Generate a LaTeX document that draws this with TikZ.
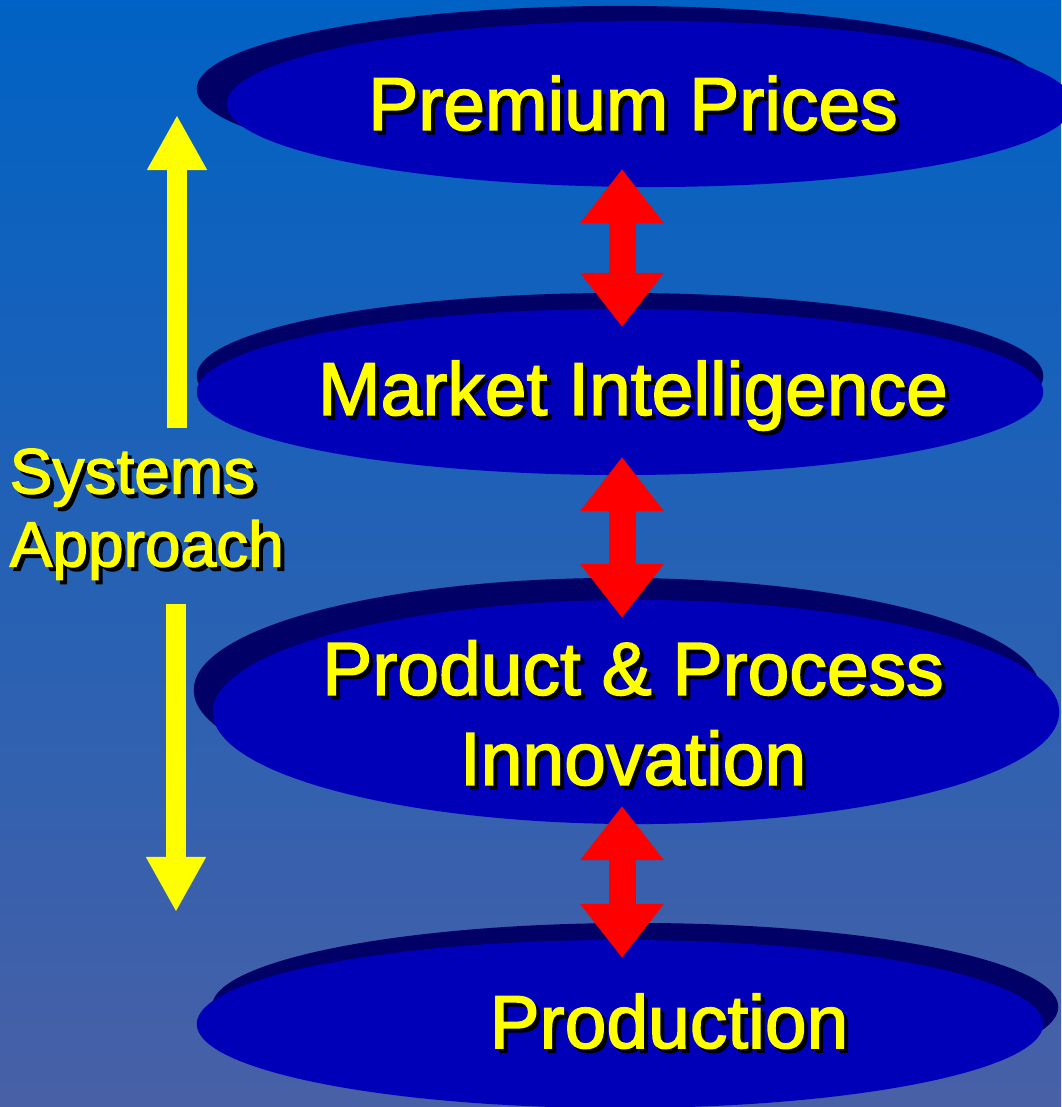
\documentclass[tikz,border=0pt]{standalone}
\usepackage{fontspec}
\setmainfont{Liberation Sans}
\newfontfamily\capfont{Liberation Sans}[FakeBold=2]
\usetikzlibrary{shapes.geometric,arrows.meta,shadows}

\definecolor{bgtop}{RGB}{0,98,196}
\definecolor{bgmid}{RGB}{30,96,186}
\definecolor{bgbottom}{RGB}{72,96,166}
\definecolor{discblue}{RGB}{0,0,184}
\definecolor{discshadow}{RGB}{0,0,102}
\definecolor{capyellow}{RGB}{255,255,0}
\definecolor{linkred}{RGB}{255,0,0}

% yellow text with a black drop copy behind it
\newcommand{\dropped}[1]{\makebox[0pt][l]{\raisebox{-0.04cm}{\hspace{0.04cm}\textcolor{black}{#1}}}#1}

\begin{document}
\begin{tikzpicture}
            [x=0.01cm,y=-0.01cm,
             disc/.style 2 args={ellipse,fill=discblue,inner sep=0pt,outer sep=0pt,
               minimum width=8.46cm,
               general shadow={shadow xshift=#1,shadow yshift=#2,fill=discshadow}},
             caption/.style={text=capyellow,inner sep=0pt,align=center,
               font=\capfont\fontsize{0.75cm}{0.9cm}\selectfont},
             linkarrow/.style={{Triangle[width=0.8cm,length=0.54cm]}-{Triangle[width=0.8cm,length=0.54cm]},
               draw=linkred,line width=0.27cm,shorten <=-0.18cm,shorten >=-0.18cm},
             sysarrow/.style={-{Triangle[width=0.56cm,length=0.55cm]},
               draw=capyellow,line width=0.19cm}]

            \useasboundingbox (0,0) rectangle (1061,1107);
            \shade[top color=bgtop,middle color=bgmid,bottom color=bgbottom] (0,0) rectangle (1061,1107);

            % the four levels
            \node (prices) [disc={-0.30cm}{0.15cm},minimum height=1.66cm] at (650,104) {};
            \node (market) [disc={0cm}{0.16cm},minimum height=1.66cm] at (620,392) {};
            \node (innov) [disc={-0.19cm}{0.22cm},minimum height=2.24cm] at (636,712) {};
            \node (prod) [disc={0.15cm}{0.17cm},minimum height=1.68cm] at (620,1024) {};

            \node (pricestxt) [caption,anchor=base] at (633,130) {\dropped{Premium Prices}};
            \node (markettxt) [caption,anchor=base] at (633,415) {\dropped{Market Intelligence}};
            \node (innovtxt) [caption] at (633,715) {\dropped{Product \& Process}\\\dropped{Innovation}};
            \node (prodtxt) [caption,anchor=base] at (669,1048) {\dropped{Production}};

            % links between levels
            \coordinate (axis) at (622,0);
            \draw[linkarrow] (prices.south -| axis) -- (market.north -| axis);
            \draw[linkarrow] (market.south -| axis) -- (innov.north -| axis);
            \draw[linkarrow] (innov.south -| axis) -- (prod.north -| axis);

            % systems approach
            \node (sys) [text=capyellow,anchor=north west,align=left,inner xsep=0pt,inner ysep=0.2cm,
               font=\capfont\fontsize{0.64cm}{0.73cm}\selectfont] at (9,428) {\dropped{Systems}\\\dropped{Approach}};
            \coordinate (uptip) at (177,115);
            \coordinate (downtip) at (176,912);
            \draw[sysarrow] (sys.north -| uptip) -- (uptip);
            \draw[sysarrow] (sys.south -| downtip) -- (downtip);
        \end{tikzpicture}
\end{document}
